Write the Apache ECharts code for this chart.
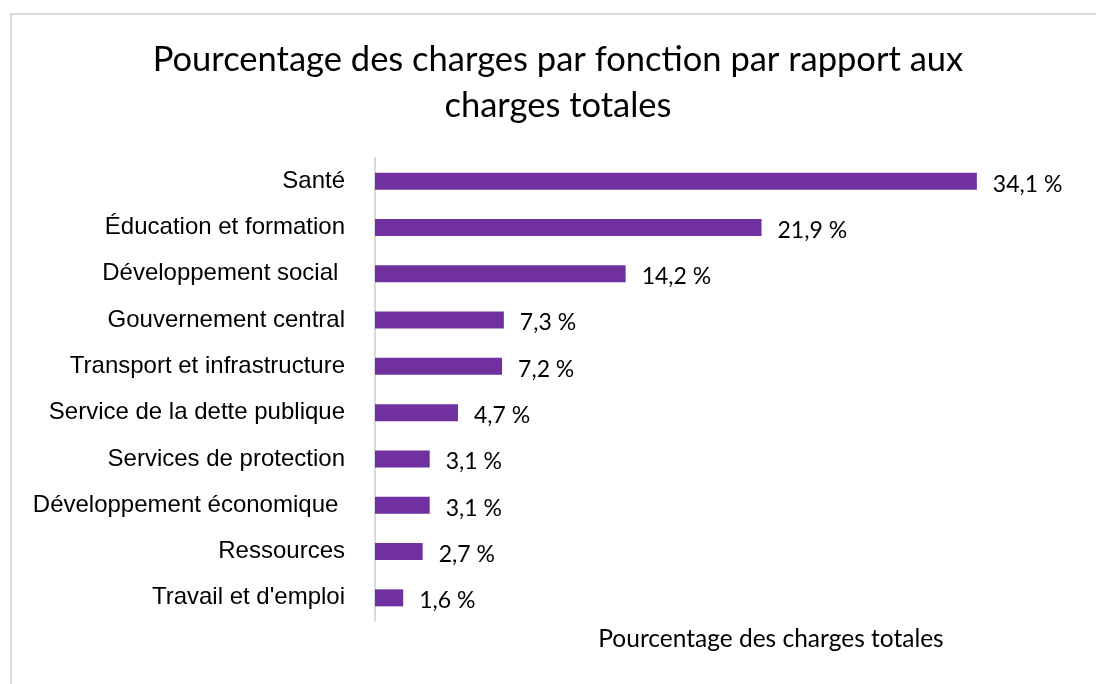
<!DOCTYPE html>
<html>
<head>
<meta charset="utf-8">
<script src="https://cdn.jsdelivr.net/npm/echarts@6/dist/echarts.min.js"></script>
<style>
  html, body { margin: 0; padding: 0; background: #fff; }
  #chart-container { width: 1096px; height: 684px; position: relative; }
  #frame { position: absolute; left: 10px; top: 13px; width: 1100px; height: 700px; border: 2px solid #d9d9d9; box-sizing: border-box; pointer-events: none; }
</style>
</head>
<body>
<div id="chart-container"></div>
<div id="frame"></div>
<script>
var categories = ['Santé', 'Éducation et formation', 'Développement social ', 'Gouvernement central',
  'Transport et infrastructure', 'Service de la dette publique', 'Services de protection',
  'Développement économique ', 'Ressources', "Travail et d'emploi"];
var values = [34.1, 21.9, 14.2, 7.3, 7.2, 4.7, 3.1, 3.1, 2.7, 1.6];

var dom = document.getElementById('chart-container');
var myChart = echarts.init(dom, null, { renderer: 'canvas' });

var option = {
  title: {
    text: 'Pourcentage des charges par fonction par rapport aux\ncharges totales',
    left: 553,
    top: 32,
    textAlign: 'center',
    textStyle: {
      fontFamily: 'Lato',
      fontWeight: 'normal',
      fontSize: 34.5,
      lineHeight: 46,
      color: '#000'
    }
  },
  grid: { left: 375, right: 15, top: 158, height: 463 },
  xAxis: {
    type: 'value',
    min: 0,
    max: 40,
    show: true,
    axisLine: { show: false },
    axisTick: { show: false },
    axisLabel: { show: false },
    splitLine: { show: false },
    name: 'Pourcentage des charges totales',
    nameLocation: 'middle',
    nameGap: 6,
    nameTextStyle: {
      fontFamily: 'Lato',
      fontSize: 24.5,
      color: '#000',
      padding: [0, 0, 0, 86]
    }
  },
  yAxis: {
    type: 'category',
    data: categories,
    inverse: true,
    axisLine: { show: true, lineStyle: { color: '#d9d9d9', width: 2 } },
    axisTick: { show: false },
    axisLabel: {
      margin: 30,
      fontFamily: 'Liberation Sans',
      fontSize: 24,
      color: '#000'
    }
  },
  series: [{
    type: 'bar',
    data: values,
    barWidth: 17,
    itemStyle: { color: '#7030A0' },
    label: {
      show: true,
      position: 'right',
      distance: 16,
      offset: [0, 3],
      fontFamily: 'Lato',
      fontSize: 23,
      color: '#000',
      formatter: function (p) { return String(p.value.toFixed(1)).replace('.', ',') + ' %'; }
    }
  }]
};

myChart.setOption(option);
window.addEventListener('resize', myChart.resize);
</script>
</body>
</html>
